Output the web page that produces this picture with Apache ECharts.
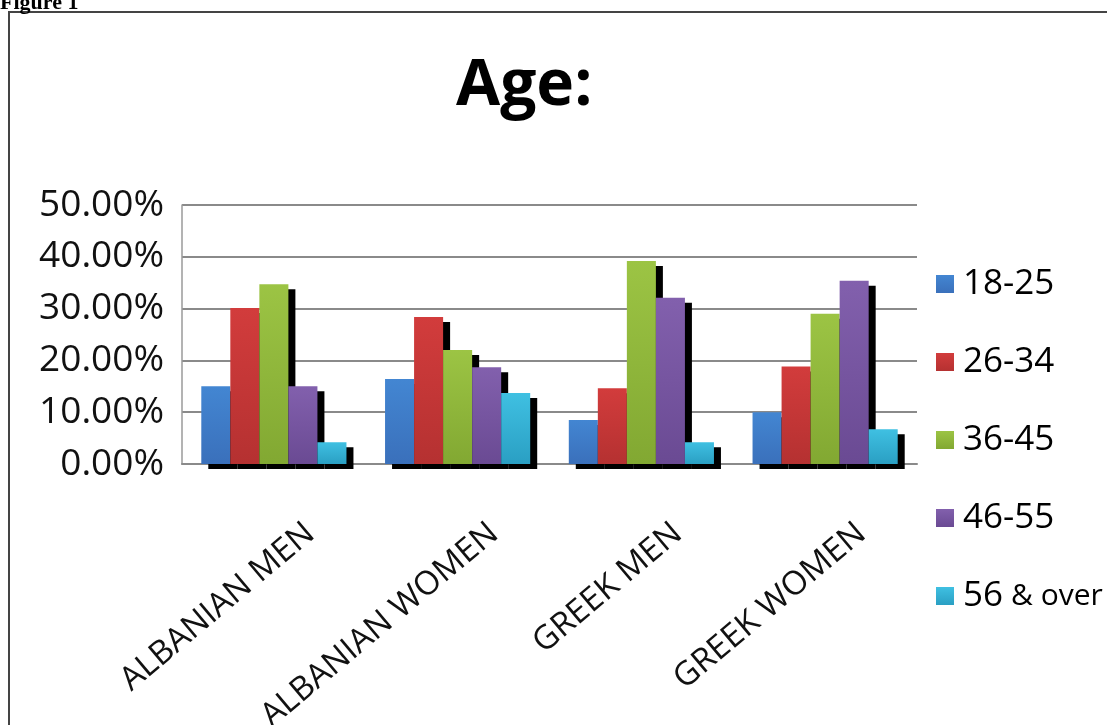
<!DOCTYPE html>
<html>
<head>
<meta charset="utf-8">
<title>Age</title>
<script src="https://cdn.jsdelivr.net/npm/echarts@6/dist/echarts.min.js"></script>
<style>
	html, body { margin: 0; padding: 0; background: #fff; }
	#ageBar { width: 1107px; height: 725px; }
</style>
</head>
<body>
<div id="ageBar"></div>
<script>
	var categories = ['ALBANIAN MEN', 'ALBANIAN WOMEN', 'GREEK MEN', 'GREEK WOMEN'];
	var ageGroups = ['18-25', '26-34', '36-45', '46-55', '56 & over'];
	var v18_25 = [0.150, 0.164, 0.085, 0.100];
	var v26_34 = [0.301, 0.284, 0.146, 0.188];
	var v36_45 = [0.347, 0.220, 0.392, 0.290];
	var v46_55 = [0.150, 0.187, 0.321, 0.354];
	var v56_over = [0.042, 0.137, 0.042, 0.067];
	var yTicks = [0, 0.1, 0.2, 0.3, 0.4, 0.5];

	var values = [v18_25, v26_34, v36_45, v46_55, v56_over];
	// top / bottom colour of each bar
	var colors = [
		['#4386d2', '#3a70bb'],
		['#d23c3c', '#b53131'],
		['#9cc444', '#82a832'],
		['#8260ad', '#6a4a93'],
		['#3fc0e2', '#2a9fc3']
	];

	var chart = echarts.init(document.getElementById('ageBar'));

	var series = [];
	for (var i = 0; i < ageGroups.length; i++) {
		series.push({
			name: ageGroups[i],
			type: 'bar',
			barGap: '0%',
			barCategoryGap: '21%',
			data: values[i],
			animation: false,
			itemStyle: {
				color: new echarts.graphic.LinearGradient(0, 0, 0, 1, [
					{ offset: 0, color: colors[i][0] },
					{ offset: 1, color: colors[i][1] }
				]),
				shadowColor: '#000',
				shadowBlur: 0,
				shadowOffsetX: 7,
				shadowOffsetY: 5
			},
			emphasis: { disabled: true }
		});
	}

	var option = {
		backgroundColor: '#fff',
		title: {
			text: 'Age:',
			left: 451,
			top: 50,
			textStyle: {
				fontFamily: 'Open Sans',
				fontWeight: 'bold',
				fontSize: 64,
				color: '#000'
			}
		},
		legend: {
			orient: 'vertical',
			left: 931,
			top: 259,
			icon: 'rect',
			itemWidth: 18,
			itemHeight: 18,
			itemGap: 38,
			data: ageGroups,
			formatter: function (name) {
				if (name === '56 & over') {
					return '56{s|& over}';
				}
				return name;
			},
			textStyle: {
				fontFamily: 'Open Sans',
				fontSize: 35,
				lineHeight: 40,
				padding: [0, 0, 0, 4],
				color: '#000',
				rich: {
					s: { fontFamily: 'Open Sans', fontSize: 30, color: '#000', padding: [0, 0, 0, 8] }
				}
			}
		},
		grid: {
			left: 182,
			right: 190,
			top: 205,
			bottom: 261,
			containLabel: false,
			outerBoundsMode: 'none'
		},
		xAxis: {
			type: 'category',
			data: categories,
			axisTick: { show: false },
			axisLine: { lineStyle: { color: '#8a8a8a', width: 2 } },
			axisLabel: {
				interval: 0,
				rotate: 40,
				margin: 22,
				verticalAlign: 'top',
				padding: [40, 0, 0, 0],
				fontFamily: 'Open Sans',
				fontSize: 33,
				color: '#111'
			}
		},
		yAxis: {
			type: 'value',
			min: yTicks[0],
			max: yTicks[yTicks.length - 1],
			interval: 0.1,
			axisLine: { show: true, lineStyle: { color: '#9a9a9a', width: 1.5 } },
			axisTick: { show: false },
			splitLine: { lineStyle: { color: '#8a8a8a', width: 2 } },
			axisLabel: {
				margin: 18,
				fontFamily: 'Open Sans',
				fontSize: 37,
				color: '#111',
				formatter: function (v) {
					return (v * 100).toFixed(2) + '%';
				}
			}
		},
		graphic: [
			{
				type: 'rect',
				shape: { x: 9, y: 12, width: 1200, height: 800 },
				style: { fill: null, stroke: '#444', lineWidth: 2 },
				silent: true
			},
			{
				type: 'text',
				x: 0,
				y: 14,
				style: {
					text: 'Figure 1',
					fontFamily: 'Liberation Serif',
					fontWeight: 'bold',
					fontSize: 22,
					fill: '#000',
					verticalAlign: 'bottom'
				},
				silent: true
			}
		],
		series: series
	};

	chart.setOption(option);
	window.addEventListener('resize', function () {
		chart.resize();
	});
</script>
</body>
</html>
